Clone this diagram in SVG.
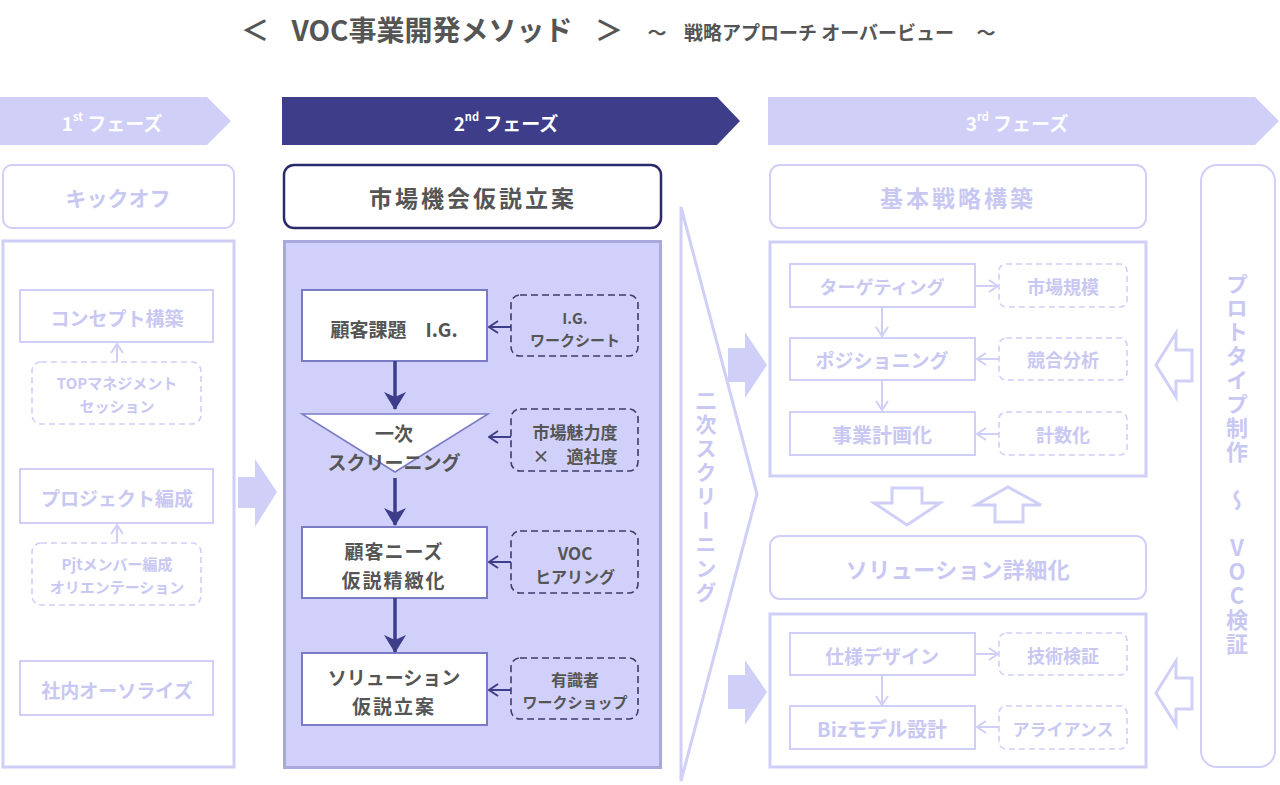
<svg xmlns="http://www.w3.org/2000/svg" width="1280" height="785" viewBox="0 0 1280 785">
<style>
text{font-family:"Noto Sans CJK JP","Noto Sans",sans-serif;font-weight:bold;text-anchor:middle;dominant-baseline:central}
.dk{fill:#555555}
.lt{fill:#c8c8f3}
.wh{fill:#ffffff}
.lbox{fill:#ffffff;stroke:#cfcff8;stroke-width:2}
.lpanel{fill:#ffffff;stroke:#cfcff8;stroke-width:3}
.ldash{fill:#ffffff;stroke:#cfcff8;stroke-width:1.6;stroke-dasharray:6 4}
.nbox{fill:#ffffff;stroke:#7a7ac6;stroke-width:2}
.ndash{fill:none;stroke:#3d3d6e;stroke-width:1.6;stroke-dasharray:7 4}
.lfill{fill:#cfcff8}
.hollow{fill:#ffffff;stroke:#cfcff8;stroke-width:3;stroke-linejoin:miter}
.la{fill:none;stroke:#cfcff8;stroke-width:2}
.na{fill:none;stroke:#3d3d89;stroke-width:2}
.nd{fill:none;stroke:#3d3d89;stroke-width:3.5}
.vt{writing-mode:vertical-rl;text-orientation:upright}
</style>
<defs>
<marker id="openL" viewBox="0 0 12 14" refX="11" refY="7" markerWidth="12" markerHeight="14" markerUnits="userSpaceOnUse" orient="auto">
<path d="M2,1 L11,7 L2,13" fill="none" stroke="#cfcff8" stroke-width="2"/>
</marker>
<marker id="openN" viewBox="0 0 12 14" refX="11" refY="7" markerWidth="12" markerHeight="14" markerUnits="userSpaceOnUse" orient="auto">
<path d="M2,1 L11,7 L2,13" fill="none" stroke="#3d3d89" stroke-width="2"/>
</marker>
<marker id="solidN" viewBox="0 0 18 22" refX="17" refY="11" markerWidth="18" markerHeight="22" markerUnits="userSpaceOnUse" orient="auto">
<path d="M0,0 L18,11 L0,22 L5,11 z" fill="#3d3d89"/>
</marker>
</defs>

<g id="title">
<text class="dk" y="29" font-size="28"><tspan x="255">＜</tspan><tspan x="432">VOC事業開発メソッド</tspan><tspan x="609">＞</tspan></text>
<text class="dk" y="31" font-size="19"><tspan x="657">～</tspan><tspan x="819">戦略アプローチ オーバービュー</tspan><tspan x="986">～</tspan></text>
</g>

<g id="phase1">
<polygon points="0,97 207,97 231,121 207,145 0,145" fill="#cfcff8"/>
<text class="wh" x="112" y="122" font-size="19">1<tspan font-size="11" dy="-6">st</tspan><tspan dy="6"> フェーズ</tspan></text>
</g>
<g id="phase2">
<polygon points="282,97 717,97 740,121 717,145 282,145" fill="#3d3d89"/>
<text class="wh" x="506" y="122" font-size="19">2<tspan font-size="11" dy="-6">nd</tspan><tspan dy="6"> フェーズ</tspan></text>
</g>
<g id="phase3">
<polygon points="768,97 1255,97 1279,121 1255,145 768,145" fill="#cfcff8"/>
<text class="wh" x="1017" y="122" font-size="19">3<tspan font-size="11" dy="-6">rd</tspan><tspan dy="6"> フェーズ</tspan></text>
</g>

<!-- Phase 1 -->
<g id="kickoff">
<rect class="lbox" x="3" y="165" width="231" height="63" rx="9"/>
<text class="lt" x="118" y="197" font-size="21">キックオフ</text>
</g>
<g id="p1panel"><rect class="lpanel" x="3" y="241" width="231" height="526"/></g>
<g id="concept">
<rect class="lbox" x="20" y="290" width="193" height="52"/>
<text class="lt" x="117" y="317" font-size="19">コンセプト構築</text>
</g>
<g id="topmgmt">
<rect class="ldash" x="32" y="362" width="169" height="62" rx="9"/>
<text class="lt" x="117" y="382" font-size="15">TOPマネジメント</text>
<text class="lt" x="117" y="405" font-size="15">セッション</text>
</g>
<g id="project">
<rect class="lbox" x="20" y="469" width="193" height="54"/>
<text class="lt" x="117" y="497" font-size="19">プロジェクト編成</text>
</g>
<g id="pjtmember">
<rect class="ldash" x="32" y="543" width="169" height="62" rx="9"/>
<text class="lt" x="117" y="563" font-size="15">Pjtメンバー編成</text>
<text class="lt" x="117" y="586" font-size="15">オリエンテーション</text>
</g>
<g id="authorize">
<rect class="lbox" x="20" y="661" width="193" height="54"/>
<text class="lt" x="117" y="689" font-size="19">社内オーソライズ</text>
</g>

<!-- Phase 2 -->
<g id="market">
<rect x="284" y="165" width="377" height="63" rx="10" fill="#ffffff" stroke="#2b2b6b" stroke-width="2.5"/>
<text class="dk" x="473" y="197" font-size="23" letter-spacing="3">市場機会仮説立案</text>
</g>
<g id="p2panel"><rect x="284.5" y="241.5" width="376" height="526" fill="#d0d0fa" stroke="#a8a8dc" stroke-width="3"/></g>
<g id="kadai">
<rect class="nbox" x="302" y="290" width="185" height="71"/>
<text class="dk" x="394" y="328" font-size="19">顧客課題　I.G.</text>
</g>
<g id="igsheet">
<rect class="ndash" x="511" y="295" width="127" height="61" rx="9"/>
<text class="dk" x="575" y="317" font-size="15">I.G.</text>
<text class="dk" x="575" y="339" font-size="15">ワークシート</text>
</g>
<g id="screen1">
<polygon points="302,414 488,414 395,472" fill="#ffffff" stroke="#7a7ac6" stroke-width="1.5"/>
<text class="dk" x="394" y="432" font-size="19">一次</text>
<text class="dk" x="394" y="461" font-size="19">スクリーニング</text>
</g>
<g id="miryoku">
<rect class="ndash" x="511" y="409" width="127" height="62" rx="9"/>
<text class="dk" x="575" y="431" font-size="17">市場魅力度</text>
<text class="dk" x="575" y="455" font-size="17">×　適社度</text>
</g>
<g id="needs">
<rect class="nbox" x="302" y="527" width="185" height="71"/>
<text class="dk" x="394" y="550" font-size="19" letter-spacing="1">顧客ニーズ</text>
<text class="dk" x="394" y="579" font-size="19" letter-spacing="2">仮説精緻化</text>
</g>
<g id="voc">
<rect class="ndash" x="511" y="531" width="127" height="62" rx="9"/>
<text class="dk" x="575" y="552" font-size="17">VOC</text>
<text class="dk" x="575" y="576" font-size="16">ヒアリング</text>
</g>
<g id="solution">
<rect class="nbox" x="302" y="653" width="185" height="72"/>
<text class="dk" x="394" y="676" font-size="19">ソリューション</text>
<text class="dk" x="394" y="705" font-size="19" letter-spacing="2">仮説立案</text>
</g>
<g id="expert">
<rect class="ndash" x="511" y="658" width="127" height="61" rx="9"/>
<text class="dk" x="575" y="679" font-size="16">有識者</text>
<text class="dk" x="575" y="701" font-size="15">ワークショップ</text>
</g>

<!-- Secondary screening chevron -->
<g id="screen2">
<polygon points="681,207 757,494 681,781" fill="#ffffff" stroke="#cfcff8" stroke-width="3" stroke-linejoin="miter"/>
<text class="lt vt" x="706" y="498" font-size="21" letter-spacing="3">二次スクリーニング</text>
</g>

<!-- Phase 3 -->
<g id="kihon">
<rect class="lbox" x="770" y="165" width="376" height="63" rx="10"/>
<text class="lt" x="958" y="197" font-size="23" letter-spacing="3">基本戦略構築</text>
</g>
<g id="p3panel1"><rect class="lpanel" x="770" y="242" width="376" height="234"/></g>
<g id="targeting">
<rect class="lbox" x="790" y="264" width="185" height="43"/>
<text class="lt" x="882" y="286" font-size="18">ターゲティング</text>
</g>
<g id="kibo">
<rect class="ldash" x="999" y="264" width="128" height="43" rx="7"/>
<text class="lt" x="1063" y="286" font-size="18">市場規模</text>
</g>
<g id="positioning">
<rect class="lbox" x="790" y="338" width="185" height="42"/>
<text class="lt" x="882" y="359" font-size="19">ポジショニング</text>
</g>
<g id="kyougou">
<rect class="ldash" x="999" y="338" width="128" height="42" rx="7"/>
<text class="lt" x="1063" y="359" font-size="18">競合分析</text>
</g>
<g id="keikaku">
<rect class="lbox" x="790" y="412" width="185" height="43"/>
<text class="lt" x="882" y="434" font-size="20">事業計画化</text>
</g>
<g id="keisuu">
<rect class="ldash" x="999" y="412" width="128" height="43" rx="7"/>
<text class="lt" x="1063" y="434" font-size="18">計数化</text>
</g>
<g id="shousai">
<rect class="lbox" x="770" y="536" width="376" height="63" rx="10"/>
<text class="lt" x="958" y="568" font-size="22" letter-spacing="0.5">ソリューション詳細化</text>
</g>
<g id="p3panel2"><rect class="lpanel" x="770" y="614" width="376" height="153"/></g>
<g id="design">
<rect class="lbox" x="790" y="633" width="185" height="42"/>
<text class="lt" x="882" y="655" font-size="19">仕様デザイン</text>
</g>
<g id="gijutsu">
<rect class="ldash" x="999" y="633" width="128" height="42" rx="7"/>
<text class="lt" x="1063" y="655" font-size="18">技術検証</text>
</g>
<g id="bizmodel">
<rect class="lbox" x="790" y="706" width="185" height="43"/>
<text class="lt" x="882" y="728" font-size="20">Bizモデル設計</text>
</g>
<g id="alliance">
<rect class="ldash" x="999" y="706" width="128" height="43" rx="7"/>
<text class="lt" x="1063" y="728" font-size="17">アライアンス</text>
</g>
<g id="prototype">
<rect class="lbox" x="1201" y="165" width="74" height="602" rx="16"/>
<text class="lt vt" x="1237" y="465" font-size="22" letter-spacing="2">プロトタイプ制作 ～ VOC検証</text>
</g>

<!-- Connectors -->
<g id="connectors">
<line class="la" x1="117" y1="362" x2="117" y2="344" marker-end="url(#openL)"/>
<line class="la" x1="117" y1="543" x2="117" y2="525" marker-end="url(#openL)"/>
<polygon class="lfill" points="238,477 255,477 255,459 277,492 255,527 255,508 238,508"/>

<line class="na" x1="511" y1="327" x2="489" y2="327" marker-end="url(#openN)"/>
<line class="na" x1="511" y1="437" x2="489" y2="437" marker-end="url(#openN)"/>
<line class="na" x1="511" y1="562" x2="489" y2="562" marker-end="url(#openN)"/>
<line class="na" x1="511" y1="690" x2="489" y2="690" marker-end="url(#openN)"/>
<line class="nd" x1="395" y1="361" x2="395" y2="409" marker-end="url(#solidN)"/>
<line class="nd" x1="395" y1="478" x2="395" y2="525" marker-end="url(#solidN)"/>
<line class="nd" x1="395" y1="598" x2="395" y2="652" marker-end="url(#solidN)"/>

<polygon class="lfill" points="728,348 745,348 745,332 767,365 745,398 745,382 728,382"/>
<polygon class="lfill" points="728,675 745,675 745,660 767,692 745,725 745,709 728,709"/>

<line class="la" x1="976" y1="286" x2="998" y2="286" marker-end="url(#openL)"/>
<line class="la" x1="999" y1="359" x2="977" y2="359" marker-end="url(#openL)"/>
<line class="la" x1="999" y1="434" x2="977" y2="434" marker-end="url(#openL)"/>
<line class="la" x1="976" y1="654" x2="998" y2="654" marker-end="url(#openL)"/>
<line class="la" x1="999" y1="727" x2="977" y2="727" marker-end="url(#openL)"/>
<line class="la" x1="882" y1="308" x2="882" y2="336" marker-end="url(#openL)"/>
<line class="la" x1="882" y1="381" x2="882" y2="410" marker-end="url(#openL)"/>
<line class="la" x1="882" y1="676" x2="882" y2="705" marker-end="url(#openL)"/>

<polygon class="hollow" points="892,488 922,488 922,503 940,503 907,525 874,503 892,503"/>
<polygon class="hollow" points="1008,487 1041,505 1023,505 1023,522 995,522 995,505 976,505"/>

<polygon class="hollow" points="1156,365 1176,333 1176,350 1192,350 1192,381 1176,381 1176,397"/>
<polygon class="hollow" points="1156,693 1176,661 1176,678 1192,678 1192,709 1176,709 1176,725"/>
</g>
</svg>
